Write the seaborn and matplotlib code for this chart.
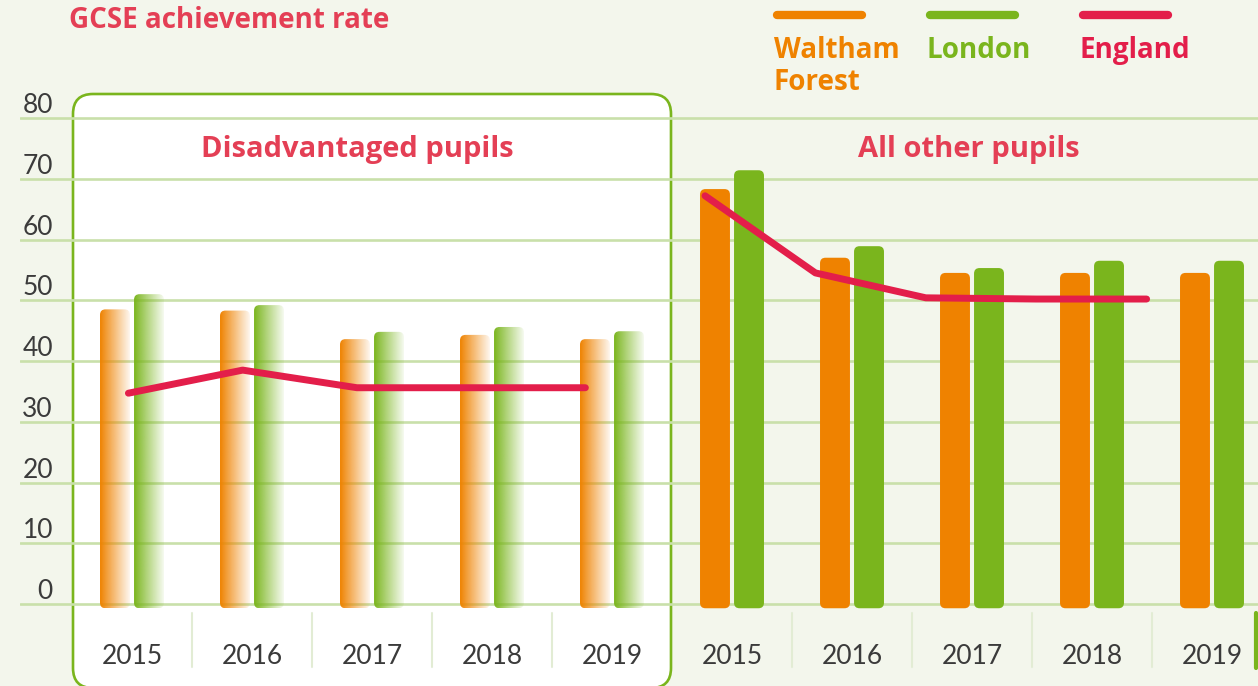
import numpy as np
import pandas as pd
import matplotlib
matplotlib.use("Agg")
import matplotlib.pyplot as plt
import matplotlib.transforms as mtransforms
from matplotlib.patches import FancyBboxPatch, Rectangle
from matplotlib.lines import Line2D
import seaborn as sns

# ---------------- data ----------------
years = ["2015", "2016", "2017", "2018", "2019"]
series = ["Waltham\nForest", "London", "England"]
dis_wf = [48.5, 48.3, 43.6, 44.3, 43.6]
dis_ldn = [51.0, 49.2, 44.8, 45.6, 44.9]
dis_eng = [34.7, 38.5, 35.6, 35.6, 35.6]
oth_wf = [68.3, 57.0, 54.5, 54.5, 54.5]
oth_ldn = [71.4, 58.9, 55.3, 56.5, 56.5]
oth_eng = [67.2, 54.5, 50.4, 50.2, 50.2]
yticks = [0, 10, 20, 30, 40, 50, 60, 70, 80]
title = "GCSE achievement rate"
panel_titles = ["Disadvantaged pupils", "All other pupils"]

# ---------------- style ----------------
ORANGE = "#ef8200"
GREEN = "#7ab51d"
RED = "#e31e4a"
TXTRED = "#e43f55"
GRID = "#c9e0aa"
BG = "#f3f6ec"
TICK = "#3b3b3b"
FONT = "Lato"
BOLDFONT = ["Open Sans", "DejaVu Sans"]

sns.set_theme(style="white")
plt.rcParams["font.family"] = [FONT, "DejaVu Sans"]

W, H = 1258, 686
fig = plt.figure(figsize=(W / 100, H / 100), dpi=100, facecolor=BG)

PX_PER_UNIT_Y = 6.075
y0_px = 604
ybot = (y0_px - 620) / PX_PER_UNIT_Y
ytop = (y0_px - 93) / PX_PER_UNIT_Y

ax1 = fig.add_axes([20 / W, (H - 620) / H, 652 / W, 527 / H])
ax2 = fig.add_axes([672 / W, (H - 620) / H, 586 / W, 527 / H])

# white rounded box behind the left panel
box = FancyBboxPatch((73, -2), 598, 594,
                     boxstyle="round,pad=0,rounding_size=20",
                     transform=mtransforms.IdentityTransform(),
                     facecolor="white", edgecolor=GREEN, lw=1.9, zorder=-1)
fig.add_artist(box)

palette = {series[0]: ORANGE, series[1]: GREEN}
aspect = 120 / PX_PER_UNIT_Y
rsize = 5.5 / 120


def draw_panel(ax, wf, ldn, eng, xlim, gradient, line_x0, line_step, ttl, ttl_x):
    df = pd.DataFrame({
        "year": years * 2,
        "series": [series[0]] * 5 + [series[1]] * 5,
        "value": wf + ldn,
    })
    sns.barplot(data=df, x="year", y="value", hue="series", palette=palette,
                width=0.567, gap=0.12, ax=ax, legend=False, saturation=1,
                errorbar=None)
    ax.set_facecolor("none")
    rects = [p for p in ax.patches if isinstance(p, Rectangle)]
    for r in rects:
        x, y = r.get_x(), r.get_y()
        w, h = r.get_width(), r.get_height()
        fc = r.get_facecolor()
        r.remove()
        fb = FancyBboxPatch((x, y - 0.7), w, h + 0.7,
                            boxstyle=f"round,pad=0,rounding_size={rsize}",
                            mutation_aspect=aspect, lw=0,
                            facecolor=("none" if gradient else fc),
                            edgecolor="none", zorder=1)
        ax.add_patch(fb)
        if gradient:
            n = 64
            t = np.linspace(0, 1, n)
            arr = np.zeros((1, n, 4))
            arr[..., :3] = fc[:3]
            arr[0, :, 3] = np.clip(1.0 - 0.93 * t ** 0.95, 0, 1)
            im = ax.imshow(arr, extent=[x, x + w, y - 0.7, y + h],
                           aspect="auto", interpolation="bilinear",
                           zorder=1.5, origin="lower")
            im.set_clip_path(fb)
    # England line
    xs = line_x0 + line_step * np.arange(len(eng))
    sns.lineplot(x=xs, y=eng, ax=ax, color=RED, lw=5,
                 solid_capstyle="round", solid_joinstyle="round", zorder=3,
                 sort=False)
    ax.set_xlim(*xlim)
    ax.set_ylim(ybot, ytop)
    ax.set_xlabel("")
    ax.set_ylabel("")
    ax.set_yticks(yticks)
    ax.yaxis.grid(True, color=GRID, lw=1.9)
    ax.xaxis.grid(False)
    ax.set_axisbelow(True)
    for s in ax.spines.values():
        s.set_visible(False)
    ax.set_xticks(range(len(years)))
    ax.set_xticklabels(years)
    ax.tick_params(axis="x", length=0, pad=17, labelsize=19, labelcolor=TICK)
    # faint separators between year groups
    for i in range(4):
        ax.plot([i + 0.5, i + 0.5], [-1.5, -10.4], color="#e2ecd4", lw=1.5,
                clip_on=False, zorder=0.6)
    ax.text(ttl_x, 73.5, ttl, ha="center", va="baseline", fontsize=21,
            fontweight="bold", color=TXTRED, family=BOLDFONT)


draw_panel(ax1, dis_wf, dis_ldn, dis_eng, (-0.5 - 52 / 120, 4.5), True,
           -0.03, 0.952, panel_titles[0], 1.88)
draw_panel(ax2, oth_wf, oth_ldn, oth_eng, (-0.5, 4.5 - 14 / 120), False,
           -0.225, 0.92, panel_titles[1], 1.97)

# y tick labels on left
ax1.tick_params(axis="y", length=0, pad=-33 * 0.72, labelsize=19,
                labelcolor=TICK)
off = mtransforms.ScaledTranslation(0, 5 / 100, fig.dpi_scale_trans)
for lab in ax1.get_yticklabels():
    lab.set_horizontalalignment("right")
    lab.set_verticalalignment("baseline")
    lab.set_transform(lab.get_transform() + off)
ax2.tick_params(axis="y", length=0, labelleft=False)

# strong green separator at right edge
fig.add_artist(Line2D([1256 / W, 1256 / W], [(H - 613) / H, (H - 668) / H],
                      color=GREEN, lw=3, transform=fig.transFigure))

# title
fig.text(69 / W, (H - 28) / H, title, ha="left", va="baseline", fontsize=20,
         fontweight="bold", color=TXTRED, family=BOLDFONT)

# legend
leg = [("Waltham\nForest", ORANGE, 773), ("London", GREEN, 926),
       ("England", RED, 1079)]
for lab, col, x in leg:
    fig.add_artist(Line2D([(x + 4) / W, (x + 89) / W], [(H - 15) / H] * 2,
                          color=col, lw=6, solid_capstyle="round",
                          transform=fig.transFigure))
    parts = lab.split("\n")
    for k, part in enumerate(parts):
        fig.text((x + 1) / W, (H - 58 - 32 * k) / H, part, ha="left",
                 va="baseline", fontsize=20, fontweight="bold", color=col,
                 family=BOLDFONT)

fig.savefig("out.png", dpi=100, facecolor=BG)
